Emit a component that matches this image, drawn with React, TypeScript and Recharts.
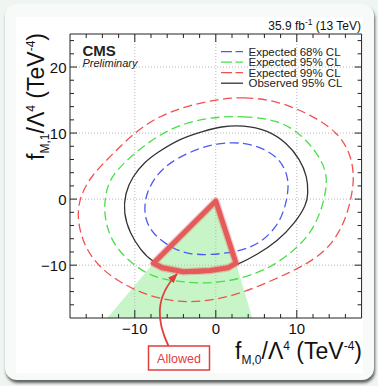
import React from 'react';
import { ComposedChart, Line, Area, XAxis, YAxis, ReferenceLine, Legend } from 'recharts';

// contour points: [f_M0, f_M1]
const expected68 = [
  [0.6, 8.5], [3.4, 8.6], [5.9, 7.7], [8.0, 6.0], [9.0, 3.2], [8.9, 0.8], [8.5, -1.5],
  [7.6, -4.1], [5.5, -6.7], [3.0, -7.9], [-0.7, -8.5], [-3.6, -8.3], [-5.6, -7.3],
  [-7.7, -5.4], [-8.8, -3.0], [-8.8, 0.0], [-7.9, 2.6], [-6.6, 4.6], [-4.8, 6.2], [-1.9, 7.8],
];
const expected95 = [
  [-0.7, 12.4], [3.4, 12.6], [7.6, 12.0], [10.4, 10.0], [12.5, 7.0], [13.6, 4.4], [13.7, 2.2],
  [13.4, 0.2], [12.9, -2.1], [11.7, -5.2], [9.8, -7.6], [7.6, -9.7], [5.0, -11.3], [1.8, -12.4],
  [-1.5, -12.8], [-4.4, -12.5], [-7.9, -11.9], [-11.0, -9.2], [-13.0, -6.2], [-13.9, -2.1],
  [-13.5, 1.9], [-12.4, 4.2], [-10.1, 6.9], [-7.3, 9.5], [-4.4, 11.3],
];
const expected99 = [
  [0.1, 15.1], [3.4, 15.5], [7.6, 14.9], [11.7, 12.8], [15.0, 10.2], [16.6, 7.0], [17.1, 3.6],
  [16.8, 0.5], [16.0, -3.2], [14.4, -6.8], [12.0, -9.3], [9.0, -11.2], [5.5, -13.1], [2.0, -14.7],
  [-1.5, -15.5], [-4.5, -15.6], [-8.1, -14.8], [-11.8, -12.7], [-14.5, -10.2], [-16.3, -7.0],
  [-17.1, -3.2], [-16.9, 0.0], [-15.5, 3.4], [-13.0, 6.5], [-9.9, 10.3], [-6.9, 12.6], [-3.6, 14.1],
];
const observed95 = [
  [0.6, 11.0], [3.4, 11.2], [6.3, 10.5], [8.8, 8.5], [10.4, 6.0], [11.3, 3.4], [11.4, 0.8],
  [11.2, -0.8], [9.8, -3.6], [7.6, -6.4], [5.1, -8.4], [2.8, -9.9], [0.0, -11.0], [-2.6, -11.3],
  [-5.4, -10.8], [-7.9, -9.5], [-9.3, -7.7], [-10.6, -5.2], [-11.4, -2.1], [-11.2, 0.9],
  [-10.3, 3.4], [-8.8, 5.6], [-7.3, 7.0], [-4.4, 9.2], [-1.5, 10.3],
];
const allowedEdge = [
  [0, -0.3], [2.5, -9.7], [1.5, -10.4], [-0.7, -10.8], [-4.0, -11.0], [-6.6, -10.4], [-7.7, -9.7], [0, -0.3],
];
const wedgeX = [-13.4, -7.7, 0, 2.5, 4.5];
const wedgeTop = [-18, -9.7, -0.3, -9.7, -18];
const wedgeFloor = -18;

const xTicks = [-16, -14, -12, -10, -8, -6, -4, -2, 0, 2, 4, 6, 8, 10, 12, 14, 16];
const yTicks = [-16, -14, -12, -10, -8, -6, -4, -2, 0, 2, 4, 6, 8, 10, 12, 14, 16, 18, 20, 22, 24];
const xMajor = [-10, 0, 10];
const yMajor = [-10, 0, 10, 20];

const legendNames = ['Expected 68% CL', 'Expected 95% CL', 'Expected 99% CL', 'Observed 95% CL'];

const BLUE = '#4a5af2';
const GREEN = '#46e046';
const RED = '#f25050';
const BLACK = '#333';
const FRAME = '#222';
const ARROW = '#e23c3c';
const legendColors = [BLUE, GREEN, RED, BLACK];
const legendDash = ['11 3.5', '11 3.5', '11 3.5', undefined];

const FONT = '"Liberation Sans", Arial, Helvetica, sans-serif';

const toPts = (pairs: number[][]) => pairs.map(([x, y]) => ({ x, y }));
const wedge = wedgeX.map((x, i) => ({ x, y: [wedgeFloor, wedgeTop[i]] }));
const fmt = (v: number) => (v < 0 ? '\u2212' + Math.abs(v) : String(v));

const BottomTick = (p: any) => {
  const major = xMajor.includes(p.payload.value);
  return (
    <g>
      <line x1={p.x} x2={p.x} y1={p.y} y2={p.y - (major ? 8 : 4)} stroke={FRAME} />
      {major && (
        <text x={p.x} y={p.y + 16} textAnchor="middle" fontSize={15} fill="#111">
          {fmt(p.payload.value)}
        </text>
      )}
    </g>
  );
};
const TopTick = (p: any) => {
  const major = xMajor.includes(p.payload.value);
  return <line x1={p.x} x2={p.x} y1={p.y} y2={p.y + (major ? 8 : 4)} stroke={FRAME} />;
};
const LeftTick = (p: any) => {
  const major = yMajor.includes(p.payload.value);
  return (
    <g>
      <line x1={p.x} x2={p.x + (major ? 7 : 4)} y1={p.y} y2={p.y} stroke={FRAME} />
      {major && (
        <text x={p.x - 3.5} y={p.y + 5.5} textAnchor="end" fontSize={15} fill="#111">
          {fmt(p.payload.value)}
        </text>
      )}
    </g>
  );
};
const RightTick = (p: any) => {
  const major = yMajor.includes(p.payload.value);
  return <line x1={p.x} x2={p.x - (major ? 7 : 4)} y1={p.y} y2={p.y} stroke={FRAME} />;
};

const LegendBox = () => (
  <svg width={140} height={46} style={{ display: 'block' }}>
    {legendNames.map((name, i) => {
      const cy = 6.7 + i * 10.5;
      return (
        <g key={name}>
          <line x1={0} x2={22} y1={cy} y2={cy} stroke={legendColors[i]} strokeWidth={1.3} strokeDasharray={legendDash[i]} />
          <text x={27.5} y={cy + 4.2} fontSize={11.5} fill="#222" fontFamily={FONT}>{name}</text>
        </g>
      );
    })}
  </svg>
);

const lineProps = { dataKey: 'y', dot: false, isAnimationActive: false, legendType: 'none' as const };

export default function App() {
  return (
    <div style={{ position: 'absolute', left: 0, top: 0, width: 378, height: 386, background: '#eff5f1', fontFamily: FONT, overflow: 'hidden' }}>
      <div style={{ position: 'absolute', left: 5, top: 4, width: 369, height: 376, borderRadius: 12, background: '#f7faf8', boxShadow: '1px 3px 3px rgba(0,0,0,0.6)' }} />
      <div style={{ position: 'absolute', left: 16, top: 17, width: 347, height: 356, background: '#fff' }} />
      <div style={{ position: 'absolute', left: 0, top: 0 }}>
        <ComposedChart width={378} height={386} margin={{ top: 0, right: 0, bottom: 0, left: 0 }}>
          <XAxis type="number" dataKey="x" domain={[-18, 18]} allowDataOverflow ticks={xTicks} interval={0}
            tickSize={0} tickMargin={0} tickLine={false} axisLine={{ stroke: FRAME }} tick={BottomTick} height={68} />
          <XAxis xAxisId="t" orientation="top" type="number" dataKey="x" domain={[-18, 18]} allowDataOverflow ticks={xTicks}
            interval={0} tickSize={0} tickMargin={0} tickLine={false} axisLine={{ stroke: FRAME }} tick={TopTick} height={34} />
          <YAxis type="number" domain={[-18, 25]} allowDataOverflow ticks={yTicks} interval={0}
            tickSize={0} tickMargin={0} tickLine={false} axisLine={{ stroke: FRAME }} tick={LeftTick} width={70} />
          <YAxis yAxisId="r" orientation="right" type="number" domain={[-18, 25]} allowDataOverflow ticks={yTicks}
            interval={0} tickSize={0} tickMargin={0} tickLine={false} axisLine={{ stroke: FRAME }} tick={RightTick} width={16.4} />
          {xMajor.map((v) => (
            <ReferenceLine key={'gx' + v} x={v} stroke="#b8b8b8" strokeDasharray="1 2" />
          ))}
          {yMajor.map((v) => (
            <ReferenceLine key={'gy' + v} y={v} stroke="#b8b8b8" strokeDasharray="1 2" />
          ))}
          <Line {...lineProps} data={toPts(expected99)} type="basisClosed" stroke={RED} strokeWidth={1.3} strokeDasharray="9 4.5" />
          <Line {...lineProps} data={toPts(expected95)} type="basisClosed" stroke={GREEN} strokeWidth={1.3} strokeDasharray="9 4.5" />
          <Line {...lineProps} data={toPts(observed95)} type="basisClosed" stroke={BLACK} strokeWidth={1.3} />
          <Line {...lineProps} data={toPts(expected68)} type="basisClosed" stroke={BLUE} strokeWidth={1.3} strokeDasharray="9 4.5" />
          <Area data={wedge} dataKey="y" type="linear" stroke="none" fill="#00d000" fillOpacity={0.22}
            isAnimationActive={false} legendType="none" />
          <Line {...lineProps} data={toPts(allowedEdge)} type="linear" stroke="#e86262" strokeOpacity={0.35} strokeWidth={7.5}
            strokeLinejoin="round" strokeLinecap="round" />
          <Line {...lineProps} data={toPts(allowedEdge)} type="linear" stroke="#e65a5a" strokeWidth={5}
            strokeLinejoin="round" strokeLinecap="round" />
          <Legend layout="horizontal" verticalAlign="middle" align="center"
            wrapperStyle={{ top: 45, left: 221, width: 140, height: 46 }} content={() => <LegendBox />} />
        </ComposedChart>
      </div>
      <svg width={378} height={386} style={{ position: 'absolute', left: 0, top: 0, pointerEvents: 'none' }}>
        <defs>
          <marker id="ah" markerWidth={10} markerHeight={8} refX={9} refY={4} orient="auto" markerUnits="userSpaceOnUse">
            <path d="M0,0 L10,4 L0,8 z" fill={ARROW} />
          </marker>
        </defs>
        <text x={361} y={30} textAnchor="end" fontSize={12} fill="#111">
          35.9 fb<tspan dy={-5} fontSize={8.5}>-1</tspan><tspan dy={5}>{' (13 TeV)'}</tspan>
        </text>
        <text x={82.5} y={55.5} fontSize={15} fontWeight="bold" fill="#222">CMS</text>
        <text x={82.5} y={67} fontSize={11} fontStyle="italic" fill="#222">Preliminary</text>
        <text x={362} y={358.5} textAnchor="end" fontSize={23} fill="#111">
          f<tspan dy={5} fontSize={12}>M,0</tspan><tspan dy={-5}>/Λ</tspan><tspan dy={-9} fontSize={12}>4</tspan>
          <tspan dy={9}>{' (TeV'}</tspan><tspan dy={-9} fontSize={12}>-4</tspan><tspan dy={9}>)</tspan>
        </text>
        <g transform="translate(44,33) rotate(-90)">
          <text x={0} y={0} textAnchor="end" fontSize={23} fill="#111">
            f<tspan dy={5} fontSize={12}>M,1</tspan><tspan dy={-5}>/Λ</tspan><tspan dy={-9} fontSize={12}>4</tspan>
            <tspan dy={9}>{' (TeV'}</tspan><tspan dy={-9} fontSize={12}>-4</tspan><tspan dy={9}>)</tspan>
          </text>
        </g>
        <path d="M168.5,346 C157,322 154,298 177,274" fill="none" stroke={ARROW} strokeWidth={1.8} markerEnd="url(#ah)" />
        <rect x={148.5} y={346} width={61} height={24} fill="#fff" stroke={ARROW} strokeWidth={1.5} />
        <text x={179} y={362.5} textAnchor="middle" fontSize={12.5} fill={ARROW}>Allowed</text>
      </svg>
    </div>
  );
}
